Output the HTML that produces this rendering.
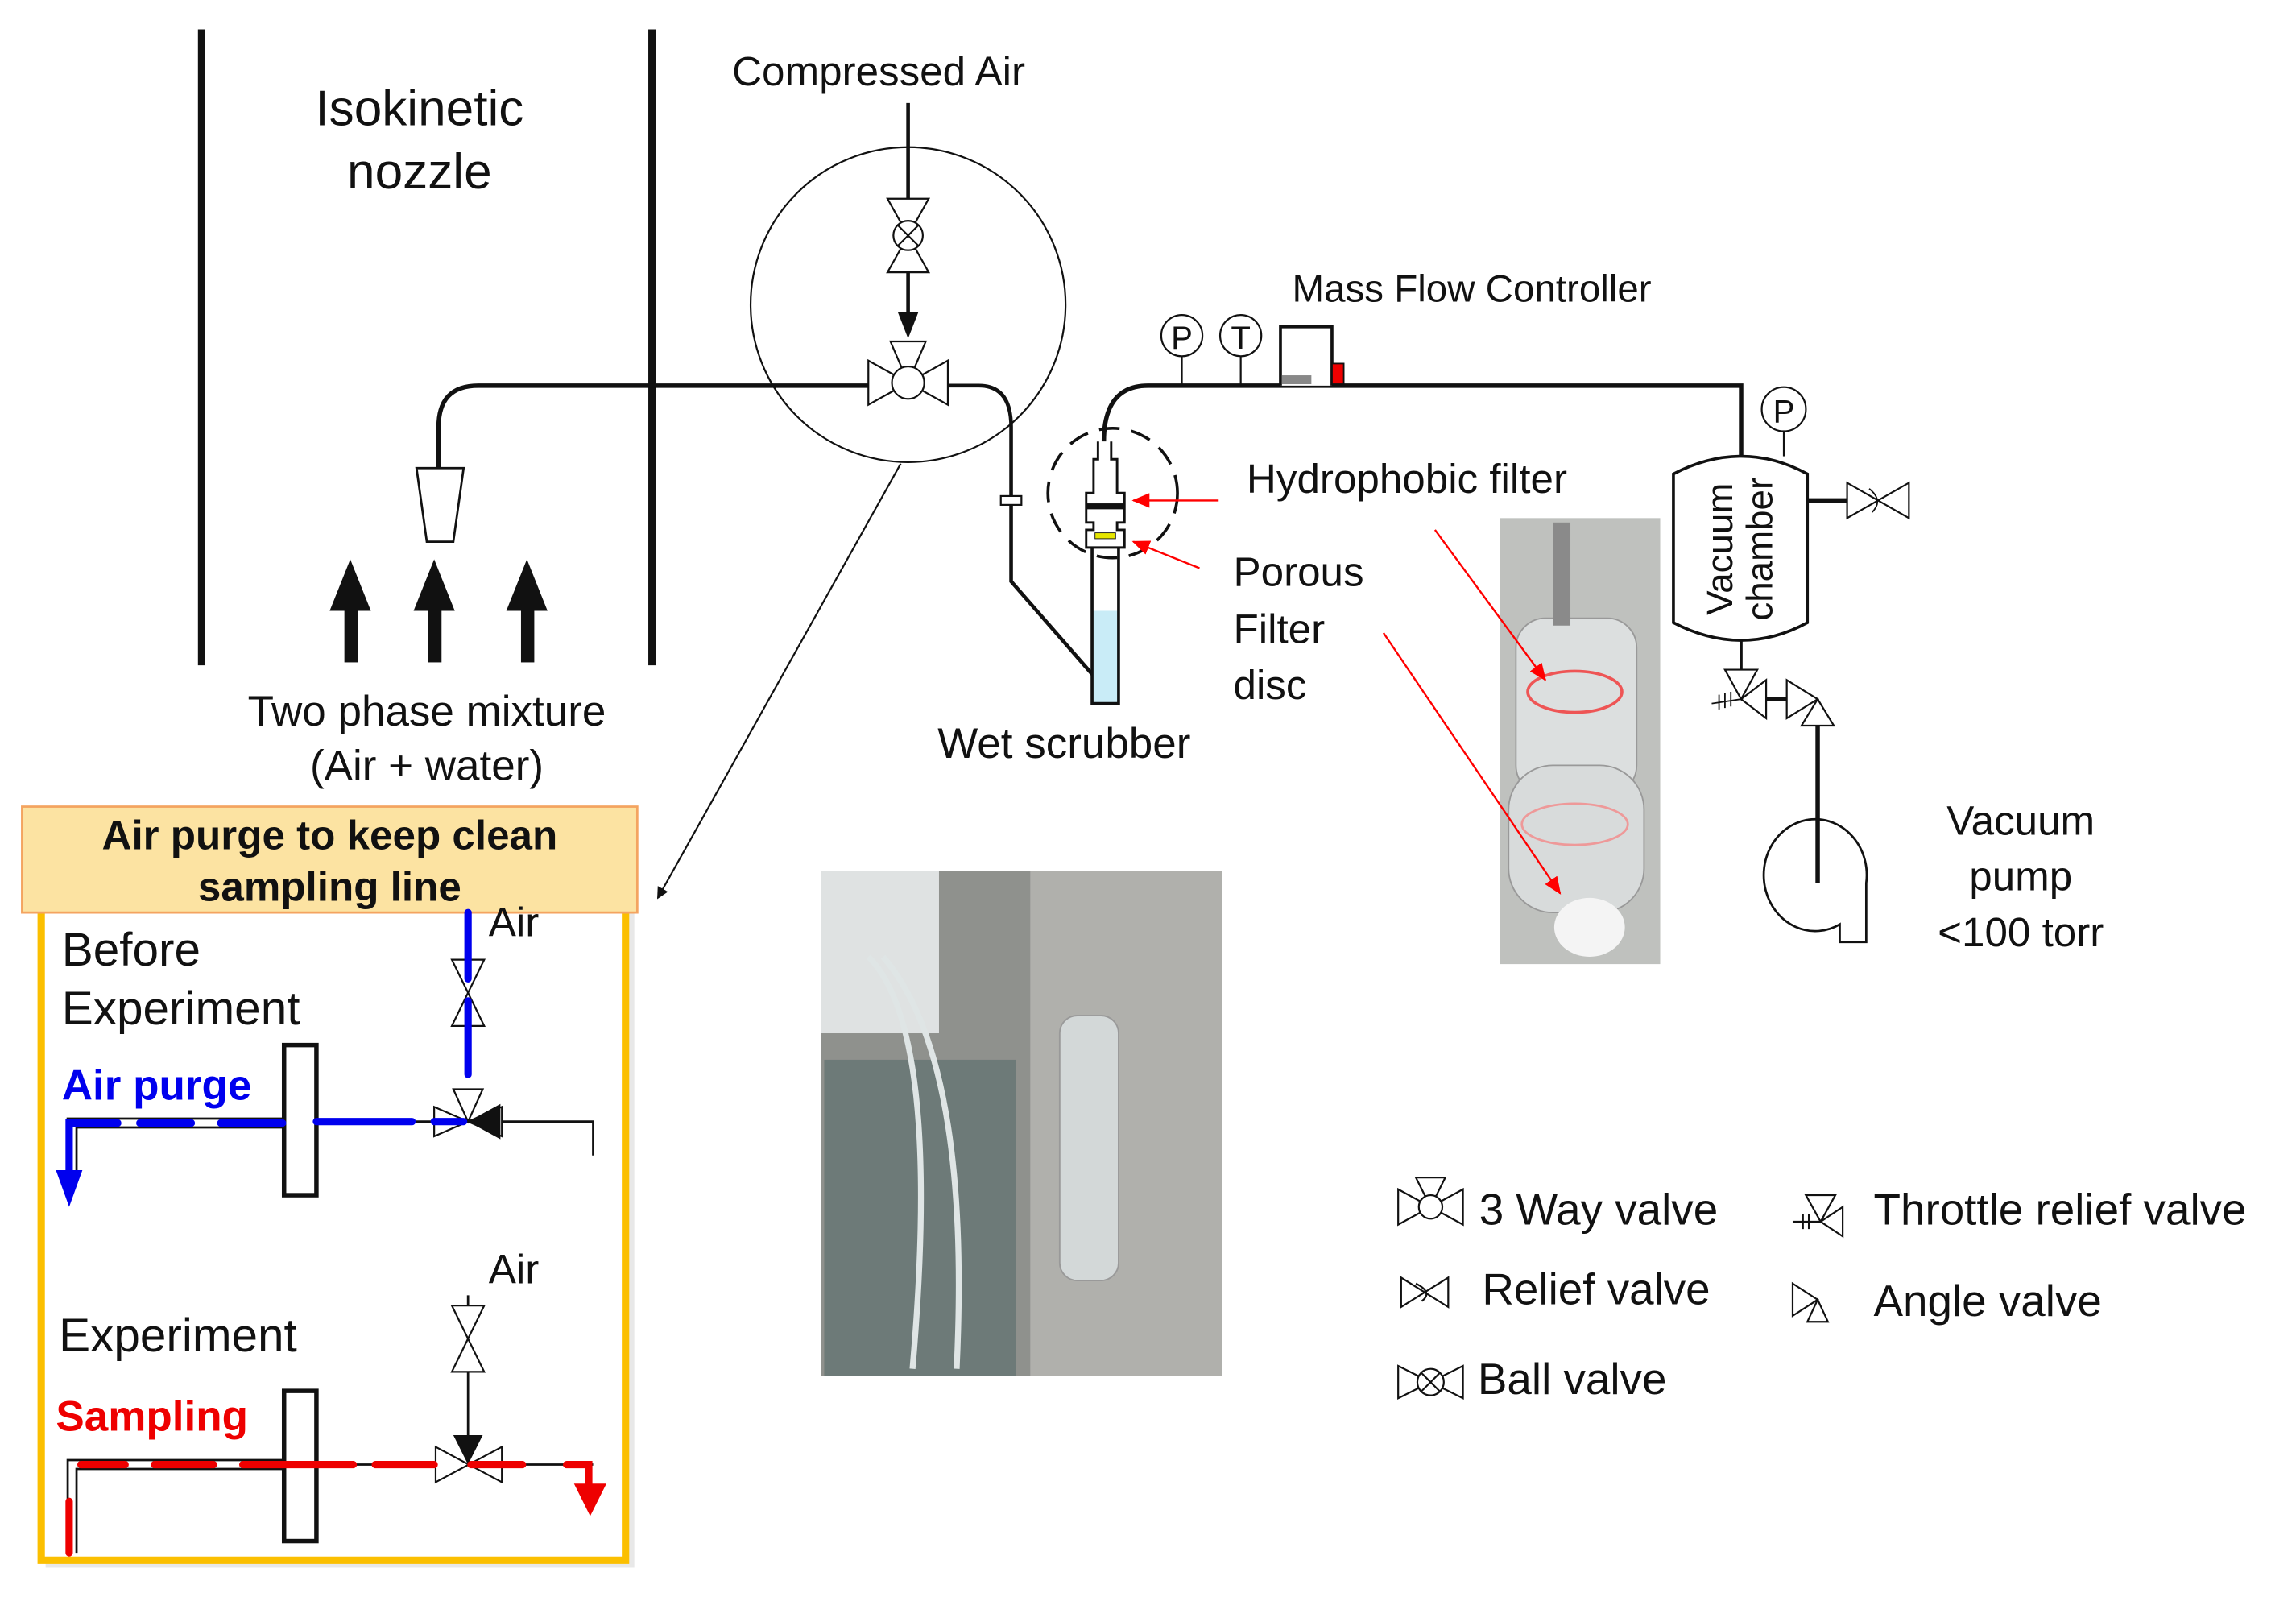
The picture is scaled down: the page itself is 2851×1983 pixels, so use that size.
<!DOCTYPE html>
<html><head><meta charset="utf-8"><style>
html,body{margin:0;padding:0;background:#fff}
svg{display:block}
text{font-family:"Liberation Sans","Noto Sans CJK KR",sans-serif;fill:#111}
</style></head><body>
<svg width="2851" height="1983" viewBox="0 0 1560 1085" preserveAspectRatio="none" xmlns="http://www.w3.org/2000/svg">
<defs>
<marker id="ab" markerWidth="8" markerHeight="8" refX="7" refY="4" orient="auto" markerUnits="userSpaceOnUse"><path d="M0,0 L8,4 L0,8z" fill="#111"/></marker>
<marker id="ar" markerWidth="12" markerHeight="10" refX="11" refY="5" orient="auto" markerUnits="userSpaceOnUse"><path d="M0,0 L12,5 L0,10z" fill="red"/></marker>
</defs>
<line x1="137" y1="20" x2="137" y2="452" stroke="#111" stroke-width="5"/>
<line x1="443" y1="20" x2="443" y2="452" stroke="#111" stroke-width="5"/>
<text x="285" y="85" font-size="34" text-anchor="middle">Isokinetic</text>
<text x="285" y="128" font-size="34" text-anchor="middle">nozzle</text>
<g fill="#111">
<rect x="234" y="410" width="9" height="40"/><path d="M224,415 L238,380 L252,415z"/>
<rect x="291" y="410" width="9" height="40"/><path d="M281,415 L295,380 L309,415z"/>
<rect x="354" y="410" width="9" height="40"/><path d="M344,415 L358,380 L372,415z"/>
</g>
<text x="290" y="493" font-size="29" text-anchor="middle">Two phase mixture</text>
<text x="290" y="530" font-size="29" text-anchor="middle">(Air + water)</text>
<path d="M283,318 L315,318 L308,368 L290,368z" fill="#fff" stroke="#111" stroke-width="1.5"/>
<path d="M298,318 L298,290 Q298,262 325,262 L592,262" fill="none" stroke="#111" stroke-width="3"/>
<path d="M643,262 L665,262 Q687,262 687,290 L687,395 L742,458" fill="none" stroke="#111" stroke-width="2.5"/>
<rect x="680" y="337" width="14" height="6" fill="#fff" stroke="#111" stroke-width="1.2"/>
<circle cx="617" cy="207" r="107" fill="none" stroke="#111" stroke-width="1.2"/>
<line x1="612" y1="315" x2="447" y2="610" stroke="#111" stroke-width="1.2" marker-end="url(#ab)"/>
<text x="597" y="58" font-size="28" text-anchor="middle">Compressed Air</text>
<line x1="617" y1="70" x2="617" y2="135" stroke="#111" stroke-width="2.5"/>
<path d="M603,135 L631,135 L603,185 L631,185z" fill="#fff" stroke="#111" stroke-width="1.2"/>
<circle cx="617" cy="160" r="10" fill="#fff" stroke="#111" stroke-width="1.2"/>
<path d="M610,153 L624,167 M624,153 L610,167" stroke="#111" stroke-width="1.2"/>
<line x1="617" y1="185" x2="617" y2="220" stroke="#111" stroke-width="2.5"/>
<path d="M610,212 L617,230 L624,212z" fill="#111"/>
<path d="M590,245 L590,275 L644,245 L644,275z M605,232 L629,232 L617,260z" fill="#fff" stroke="#111" stroke-width="1.2"/>
<circle cx="617" cy="260" r="11" fill="#fff" stroke="#111" stroke-width="1.2"/>
<path d="M750,300 Q750,262 780,262 L1183,262 L1183,312" fill="none" stroke="#111" stroke-width="3"/>
<rect x="742" y="415" width="18" height="63" fill="#c9ecf7"/>
<path d="M742,370 L742,478 L760,478 L760,370" fill="none" stroke="#111" stroke-width="2"/>
<path d="M746,300 L746,312 L743,312 L743,335 L738,335 L738,355 L743,355 L743,360 L738,360 L738,372 L764,372 L764,360 L759,360 L759,355 L764,355 L764,335 L759,335 L759,312 L755,312 L755,300" fill="#fff" stroke="#111" stroke-width="1.6"/>
<rect x="738" y="342" width="26" height="4" fill="#111"/>
<rect x="744" y="362" width="14" height="4" fill="#e6e600" stroke="#111" stroke-width=".5"/>
<circle cx="756" cy="335" r="44" fill="none" stroke="#111" stroke-width="2" stroke-dasharray="14,8"/>
<text x="723" y="515" font-size="29" text-anchor="middle">Wet scrubber</text>
<line x1="828" y1="340" x2="770" y2="340" stroke="red" stroke-width="1.3" marker-end="url(#ar)"/>
<line x1="815" y1="386" x2="770" y2="368" stroke="red" stroke-width="1.3" marker-end="url(#ar)"/>
<text x="847" y="335" font-size="28">Hydrophobic filter</text>
<text x="838" y="398" font-size="28">Porous</text>
<text x="838" y="437" font-size="28">Filter</text>
<text x="838" y="475" font-size="28">disc</text>
<line x1="803" y1="242" x2="803" y2="262" stroke="#111" stroke-width="1.2"/>
<circle cx="803" cy="228" r="14" fill="#fff" stroke="#111" stroke-width="1.2"/>
<text x="803" y="237" font-size="22" text-anchor="middle">P</text>
<line x1="843" y1="242" x2="843" y2="262" stroke="#111" stroke-width="1.2"/>
<circle cx="843" cy="228" r="14" fill="#fff" stroke="#111" stroke-width="1.2"/>
<text x="843" y="237" font-size="22" text-anchor="middle">T</text>
<path d="M870,262 L870,222 L905,222 L905,262" fill="#fff" stroke="#111" stroke-width="2"/>
<rect x="871" y="255" width="20" height="6" fill="#888"/>
<rect x="905" y="247" width="8" height="14" fill="#e00" stroke="#111" stroke-width="1"/>
<text x="1000" y="205" font-size="26" text-anchor="middle">Mass Flow Controller</text>
<rect x="1019" y="352" width="109" height="303" fill="#bfc1be"/>
<rect x="1030" y="420" width="82" height="120" rx="20" fill="#dcdfdf" stroke="#999"/>
<rect x="1025" y="520" width="92" height="100" rx="30" fill="#d8dbdb" stroke="#999"/>
<rect x="1055" y="355" width="12" height="70" fill="#8a8a8a"/>
<ellipse cx="1070" cy="470" rx="32" ry="14" fill="none" stroke="#e55" stroke-width="2"/>
<ellipse cx="1070" cy="560" rx="36" ry="14" fill="none" stroke="#e99" stroke-width="1.5"/>
<ellipse cx="1080" cy="630" rx="24" ry="20" fill="#f4f4f4"/>
<line x1="975" y1="360" x2="1050" y2="462" stroke="red" stroke-width="1.3" marker-end="url(#ar)"/>
<line x1="940" y1="430" x2="1060" y2="607" stroke="red" stroke-width="1.3" marker-end="url(#ar)"/>
<path d="M1137,322 Q1160,310 1183,310 Q1206,310 1228,322 L1228,423 Q1206,435 1183,435 Q1160,435 1137,423z" fill="#fff" stroke="#111" stroke-width="2"/>
<text transform="translate(1177,373) rotate(-90)" font-size="25" text-anchor="middle">Vacuum</text>
<text transform="translate(1204,373) rotate(-90)" font-size="25" text-anchor="middle">chamber</text>
<line x1="1212" y1="292" x2="1212" y2="310" stroke="#111" stroke-width="1.2"/>
<circle cx="1212" cy="278" r="15" fill="#fff" stroke="#111" stroke-width="1.2"/>
<text x="1212" y="287" font-size="22" text-anchor="middle">P</text>
<line x1="1228" y1="340" x2="1255" y2="340" stroke="#111" stroke-width="3"/>
<path d="M1255,328 L1255,352 L1297,328 L1297,352z" fill="#fff" stroke="#111" stroke-width="1.2"/>
<path d="M1270,332 Q1280,340 1272,348" fill="none" stroke="#111" stroke-width="1"/>
<line x1="1183" y1="435" x2="1183" y2="455" stroke="#111" stroke-width="2"/>
<path d="M1172,455 L1194,455 L1183,475z M1183,475 L1200,462 L1200,488z" fill="#fff" stroke="#111" stroke-width="1.2"/>
<path d="M1163,478 L1183,475 M1168,472 L1168,482 M1172,471 L1172,481 M1176,470 L1176,480" stroke="#111" stroke-width="1"/>
<line x1="1200" y1="475" x2="1214" y2="475" stroke="#111" stroke-width="3"/>
<path d="M1214,462 L1214,488 L1235,475z M1224,493 L1246,493 L1235,475z" fill="#fff" stroke="#111" stroke-width="1.2"/>
<line x1="1235" y1="493" x2="1235" y2="600" stroke="#111" stroke-width="3"/>
<path d="M1250,640 L1268,640 L1268,600 A35,38 0 1 0 1250,628 z" fill="none" stroke="#111" stroke-width="1.5"/>
<text x="1373" y="567" font-size="28" text-anchor="middle">Vacuum</text>
<text x="1373" y="605" font-size="28" text-anchor="middle">pump</text>
<text x="1373" y="643" font-size="28" text-anchor="middle">&lt;100 torr</text>
<rect x="558" y="592" width="272" height="343" fill="#8f918d"/>
<rect x="558" y="592" width="80" height="110" fill="#dfe2e2"/>
<rect x="700" y="592" width="130" height="343" fill="#b0b0ac"/>
<rect x="560" y="720" width="130" height="215" fill="#6d7a78"/>
<rect x="720" y="690" width="40" height="180" rx="12" fill="#d3d8d8" stroke="#999"/>
<path d="M590,650 Q640,700 620,930 M600,650 Q660,720 650,930" stroke="#dfe5e5" stroke-width="4" fill="none"/>
<g stroke="#111" stroke-width="1.2" fill="#fff">
<path d="M950,808 L950,832 L994,808 L994,832z M962,800 L982,800 L972,820z"/><circle cx="972" cy="820" r="8"/>
<path d="M952,868 L952,888 L984,868 L984,888z"/><path d="M962,872 Q974,878 966,884" fill="none"/>
<path d="M950,928 L950,950 L994,928 L994,950z"/><circle cx="972" cy="939" r="9"/>
<path d="M966,933 L978,945 M978,933 L966,945"/>
<path d="M1227,812 L1247,812 L1237,830z M1237,830 L1252,820 L1252,840z"/><path d="M1218,830 L1237,830 M1225,825 L1225,835 M1229,825 L1229,835"/>
<path d="M1218,872 L1218,894 L1235,883z M1228,898 L1242,898 L1235,883z"/>
</g>
<text x="1005" y="832" font-size="30">3 Way valve</text>
<text x="1007" y="886" font-size="30">Relief valve</text>
<text x="1004" y="947" font-size="30">Ball valve</text>
<text x="1273" y="832" font-size="30">Throttle relief valve</text>
<text x="1273" y="894" font-size="30">Angle valve</text>
<rect x="31" y="620" width="400" height="445" fill="#e8e8e8"/>
<rect x="28" y="612" width="397" height="448" fill="#fff" stroke="#fbbf00" stroke-width="5"/>
<rect x="15" y="548" width="418" height="72" fill="#fce3a2" stroke="#f4a460" stroke-width="1.5"/>
<text x="224" y="577" font-size="28" font-weight="bold" text-anchor="middle">Air purge to keep clean</text>
<text x="224" y="612" font-size="28" font-weight="bold" text-anchor="middle">sampling line</text>
<text x="42" y="656" font-size="32">Before</text>
<text x="42" y="696" font-size="32">Experiment</text>
<text x="332" y="636" font-size="28">Air</text>
<text x="42" y="747" font-size="29" font-weight="bold" style="fill:#0000ee">Air purge</text>
<path d="M46,800 L46,760 L195,760 M52,800 L52,766 L195,766" fill="none" stroke="#111" stroke-width="1.5"/>
<path d="M215,762 L403,762 L403,785" fill="none" stroke="#111" stroke-width="1.5"/>
<rect x="193" y="710" width="22" height="102" fill="#fff" stroke="#111" stroke-width="3"/>
<path d="M307,652 L329,652 L307,697 L329,697z" fill="#fff" stroke="#111" stroke-width="1.2"/>
<path d="M295,752 L295,772 L341,752 L341,772z M308,740 L328,740 L318,762z" fill="#fff" stroke="#111" stroke-width="1.2"/>
<path d="M318,762 L340,750 L340,774z" fill="#111"/>
<g stroke="#0000ee" stroke-width="5" stroke-linecap="round" fill="none">
<path d="M318,620 L318,665 M318,680 L318,730"/>
<path d="M315,762 L295,762 M280,762 L215,762"/>
<path d="M192,763 L150,763 M130,763 L95,763 M80,763 L47,763 L47,800"/>
</g>
<path d="M38,795 L56,795 L47,820z" fill="#0000ee"/>
<text x="332" y="872" font-size="28">Air</text>
<text x="40" y="918" font-size="32">Experiment</text>
<text x="38" y="972" font-size="29" font-weight="bold" style="fill:#ee0000">Sampling</text>
<line x1="318" y1="880" x2="318" y2="985" stroke="#111" stroke-width="1.5"/>
<path d="M307,887 L329,887 L307,932 L329,932z" fill="#fff" stroke="#111" stroke-width="1.2"/>
<path d="M308,975 L328,975 L318,995z" fill="#111"/>
<path d="M46,1055 L46,992 L195,992 M52,1055 L52,998 L195,998" fill="none" stroke="#111" stroke-width="1.5"/>
<path d="M215,995 L403,995" stroke="#111" stroke-width="1.5"/>
<path d="M296,983 L296,1007 L341,983 L341,1007z" fill="#fff" stroke="#111" stroke-width="1.2"/>
<rect x="193" y="945" width="22" height="102" fill="#fff" stroke="#111" stroke-width="3"/>
<g stroke="#ee0000" stroke-width="5" stroke-linecap="round" fill="none">
<path d="M47,1055 L47,1020"/>
<path d="M55,995 L85,995 M105,995 L145,995 M165,995 L240,995 M255,995 L295,995 M320,995 L355,995 M385,995 L400,995 L400,1010"/>
</g>
<path d="M390,1008 L412,1008 L401,1030z" fill="#ee0000"/>
</svg>
</body></html>
